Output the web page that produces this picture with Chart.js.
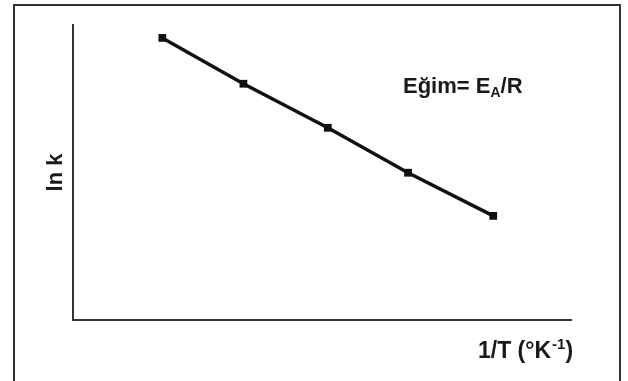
<!DOCTYPE html>
<html>
<head>
<meta charset="utf-8">
<script src="https://cdn.jsdelivr.net/npm/chart.js@4.4.0/dist/chart.umd.min.js"></script>
<style>
  html, body { margin: 0; padding: 0; background: #fff; }
  #wrap { width: 628px; height: 381px; }
</style>
</head>
<body>
<div id="wrap"><canvas id="mycanvas" width="628" height="381"></canvas></div>
<script>
// Arrhenius plot: ln k against 1/T
var invT = [1, 1.98, 3, 3.97, 5];
var lnK = [5.0, 3.97, 2.98, 1.97, 1.0];

var xTitle = '1/T (°K';
var xTitleSup = '-1';
var yTitle = 'ln k';
var slopeText = 'Eğim= E';
var slopeSub = 'A';
var slopeTail = '/R';

var FONT = '"Liberation Sans", Arial, sans-serif';

var points = [];
for (var i in invT) {
    points.push({x: invT[i], y: lnK[i]});
}

// frame + hand placed labels
var labelsPlugin = {
    id: 'labels',
    afterDraw: function(chart) {
        var ctx = chart.ctx;
        var area = chart.chartArea;
        ctx.save();

        // outer frame, open at the bottom
        ctx.strokeStyle = '#333';
        ctx.lineWidth = 2;
        ctx.beginPath();
        ctx.moveTo(14, 381);
        ctx.lineTo(14, 5);
        ctx.lineTo(620, 5);
        ctx.lineTo(620, 381);
        ctx.stroke();

        ctx.fillStyle = '#1a1a1a';
        ctx.textBaseline = 'alphabetic';

        // y title
        ctx.save();
        ctx.translate(62, (area.top + area.bottom) / 2);
        ctx.rotate(-Math.PI / 2);
        ctx.textAlign = 'center';
        ctx.font = 'bold 22px ' + FONT;
        ctx.fillText(yTitle, 0, 0);
        ctx.restore();

        // x title with superscript
        ctx.textAlign = 'left';
        var x = 478, base = 358;
        ctx.font = 'bold 23px ' + FONT;
        ctx.fillText(xTitle, x, base);
        x += ctx.measureText(xTitle).width;
        ctx.font = 'bold 15px ' + FONT;
        ctx.fillText(xTitleSup, x + 1, base - 9);
        x += ctx.measureText(xTitleSup).width + 1;
        ctx.font = 'bold 23px ' + FONT;
        ctx.fillText(')', x, base);

        // slope note with subscript
        x = 403; base = 93;
        ctx.font = 'bold 22px ' + FONT;
        ctx.fillText(slopeText, x, base);
        x += ctx.measureText(slopeText).width;
        ctx.font = 'bold 14px ' + FONT;
        ctx.fillText(slopeSub, x, base + 4);
        x += ctx.measureText(slopeSub).width;
        ctx.font = 'bold 22px ' + FONT;
        ctx.fillText(slopeTail, x, base);

        ctx.restore();
    }
};

var config = {
    type: 'scatter',
    data: {
        datasets: [{
            data: points,
            showLine: true,
            borderColor: '#111',
            borderWidth: 3.5,
            backgroundColor: '#111',
            pointStyle: 'rect',
            pointRadius: 5.5,
            pointBorderWidth: 0,
            tension: 0
        }]
    },
    options: {
        responsive: false,
        animation: false,
        events: [],
        layout: {
            padding: {left: 73, top: 25, right: 57, bottom: 61}
        },
        plugins: {
            legend: {display: false},
            tooltip: {enabled: false}
        },
        scales: {
            x: {
                type: 'linear',
                min: -0.08,
                max: 5.94,
                grid: {display: false, drawTicks: false},
                ticks: {display: false},
                border: {display: true, color: '#333', width: 2}
            },
            y: {
                type: 'linear',
                min: -1.34,
                max: 5.29,
                grid: {display: false, drawTicks: false},
                ticks: {display: false},
                border: {display: true, color: '#333', width: 2}
            }
        }
    },
    plugins: [labelsPlugin]
};

var ctx = document.getElementById('mycanvas');
var chart = new Chart(ctx, config);
</script>
</body>
</html>
